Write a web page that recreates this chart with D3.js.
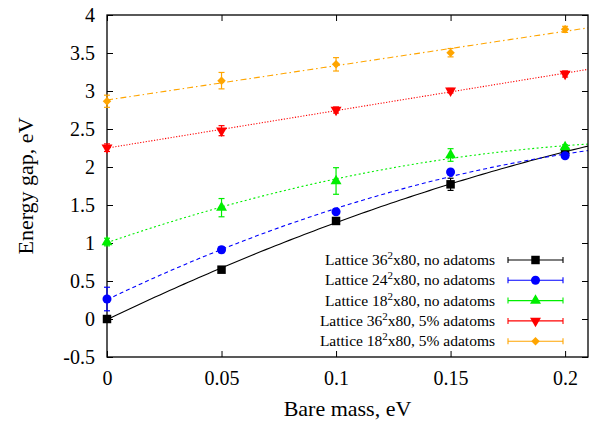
<!DOCTYPE html>
<html>
<head>
<meta charset="utf-8">
<script src="https://cdn.jsdelivr.net/npm/d3@7"></script>
<style>
  html, body { margin: 0; padding: 0; background: #fff; }
  svg, svg text { font-family: "Liberation Serif", "Times New Roman", serif; }
</style>
</head>
<body>
<svg id="chart" width="590" height="422"></svg>
<script>
// Bare mass values (eV) at which each lattice was simulated
const bareMass = [0, 0.05, 0.1, 0.15, 0.2];

// Energy gap (eV) and its statistical error for each lattice setup
const gap36 = [0.0, 0.649, 1.29, 1.772, 2.2];
const err36 = [0.02, 0.02, 0.03, 0.08, 0.03];
const gap24 = [0.263, 0.912, 1.412, 1.934, 2.148];
const err24 = [0.155, 0.04, 0.035, 0.03, 0.03];
const gap18 = [1.013, 1.465, 1.816, 2.158, 2.262];
const err18 = [0.05, 0.12, 0.175, 0.083, 0.03];
const gap36ad = [2.254, 2.478, 2.75, 3.004, 3.224];
const err36ad = [0.05, 0.066, 0.04, 0.03, 0.04];
const gap18ad = [2.865, 3.136, 3.351, 3.504, 3.811];
const err18ad = [0.08, 0.108, 0.088, 0.055, 0.04];

// Legend entries: [prefix, lattice size, suffix]
const legendLabels = [
  ["Lattice 36", "2", "x80, no adatoms"],
  ["Lattice 24", "2", "x80, no adatoms"],
  ["Lattice 18", "2", "x80, no adatoms"],
  ["Lattice 36", "2", "x80, 5% adatoms"],
  ["Lattice 18", "2", "x80, 5% adatoms"]
];

// Axis ticks
const xTicks = [0, 0.05, 0.1, 0.15, 0.2];
const xTickLabels = ["0", "0.05", "0.1", "0.15", "0.2"];
const yTicks = [-0.5, 0, 0.5, 1, 1.5, 2, 2.5, 3, 3.5, 4];
const yTickLabels = ["-0.5", "0", "0.5", "1", "1.5", "2", "2.5", "3", "3.5", "4"];

const xTitle = "Bare mass, eV";
const yTitle = "Energy gap, eV";

// ---- drawing ----
const W = 590, H = 422;
const plot = { left: 107, right: 588, top: 15, bottom: 357 };
const SERIF = '"Liberation Serif", "Times New Roman", serif';

const svg = d3.select("#chart");
svg.append("rect").attr("width", W).attr("height", H).attr("fill", "#fff");

const x = d3.scaleLinear().domain([0, 0.21]).range([plot.left, plot.right]);
const y = d3.scaleLinear().domain([-0.5, 4]).range([plot.bottom, plot.top]);

// Series styling and fit order (polynomial degree of the fitted curve)
const series = [
  { values: gap36, errors: err36, color: "#000000", dash: null, symbol: d3.symbolSquare, size: 72, rotate: 0, degree: 2 },
  { values: gap24, errors: err24, color: "#0000ff", dash: "4,3", symbol: d3.symbolCircle, size: 64, rotate: 0, degree: 2 },
  { values: gap18, errors: err18, color: "#00ee00", dash: "2,2.5", symbol: d3.symbolTriangle, size: 52, rotate: 0, degree: 2 },
  { values: gap36ad, errors: err36ad, color: "#ff0000", dash: "1.2,1.6", symbol: d3.symbolTriangle, size: 52, rotate: 180, degree: 1 },
  { values: gap18ad, errors: err18ad, color: "#ffa500", dash: "6,3,1.5,3", symbol: d3.symbolSquare, size: 36, rotate: 45, degree: 1 }
];

// Least-squares polynomial fit (normal equations, small degree)
function polyFit(xs, ys, deg) {
  const n = deg + 1;
  const A = Array.from({ length: n }, () => new Array(n + 1).fill(0));
  xs.forEach((xv, k) => {
    for (let i = 0; i < n; i++) {
      for (let j = 0; j < n; j++) A[i][j] += Math.pow(xv, i + j);
      A[i][n] += ys[k] * Math.pow(xv, i);
    }
  });
  for (let i = 0; i < n; i++) {
    let p = i;
    for (let r = i + 1; r < n; r++) if (Math.abs(A[r][i]) > Math.abs(A[p][i])) p = r;
    [A[i], A[p]] = [A[p], A[i]];
    for (let r = 0; r < n; r++) {
      if (r === i) continue;
      const f = A[r][i] / A[i][i];
      for (let c = i; c <= n; c++) A[r][c] -= f * A[i][c];
    }
  }
  return A.map((row, i) => row[n] / row[i]);
}

svg.append("clipPath").attr("id", "plotClip")
  .append("rect").attr("x", plot.left).attr("y", plot.top)
  .attr("width", plot.right - plot.left).attr("height", plot.bottom - plot.top);

// Fitted curves
const fitLayer = svg.append("g").attr("clip-path", "url(#plotClip)");
const line = d3.line().x(d => x(d[0])).y(d => y(d[1]));
const xGrid = d3.range(0, 0.2101, 0.0021);
series.forEach(s => {
  const c = polyFit(bareMass, s.values, s.degree);
  const pts = xGrid.map(xv => [xv, c.reduce((acc, ci, i) => acc + ci * Math.pow(xv, i), 0)]);
  fitLayer.append("path")
    .attr("d", line(pts))
    .attr("fill", "none")
    .attr("stroke", s.color)
    .attr("stroke-width", 1.1)
    .attr("stroke-dasharray", s.dash);
});

// Frame and ticks
const tick = 6;
const axes = [
  svg.append("g").attr("transform", `translate(0,${plot.bottom})`)
    .call(d3.axisBottom(x).tickValues(xTicks).tickFormat((d, i) => xTickLabels[i])
      .tickSizeInner(-tick).tickSizeOuter(0).tickPadding(14)),
  svg.append("g").attr("transform", `translate(0,${plot.top})`)
    .call(d3.axisTop(x).tickValues(xTicks).tickFormat("").tickSizeInner(-tick).tickSizeOuter(0)),
  svg.append("g").attr("transform", `translate(${plot.left},0)`)
    .call(d3.axisLeft(y).tickValues(yTicks).tickFormat((d, i) => yTickLabels[i])
      .tickSizeInner(-tick).tickSizeOuter(0).tickPadding(12)),
  svg.append("g").attr("transform", `translate(${plot.right},0)`)
    .call(d3.axisRight(y).tickValues(yTicks).tickFormat("").tickSizeInner(-tick).tickSizeOuter(0))
];
axes.forEach(a => a.attr("font-family", SERIF).attr("font-size", 20));

svg.selectAll(".domain").remove();
svg.selectAll(".tick line").attr("stroke", "#000").attr("stroke-width", 1);
svg.selectAll(".tick text")
  .style("font-family", SERIF)
  .style("font-size", "20px").attr("fill", "#000");

svg.append("rect")
  .attr("x", plot.left).attr("y", plot.top)
  .attr("width", plot.right - plot.left).attr("height", plot.bottom - plot.top)
  .attr("fill", "none").attr("stroke", "#000").attr("stroke-width", 1.3);

// Error bars and markers
const cap = 3;
function errorBar(g, cx, cyLo, cyHi, color) {
  g.append("line").attr("x1", cx).attr("x2", cx).attr("y1", cyLo).attr("y2", cyHi)
    .attr("stroke", color).attr("stroke-width", 1.2);
  [cyLo, cyHi].forEach(cy => g.append("line")
    .attr("x1", cx - cap).attr("x2", cx + cap).attr("y1", cy).attr("y2", cy)
    .attr("stroke", color).attr("stroke-width", 1.2));
}
function marker(g, s, cx, cy) {
  g.append("path")
    .attr("d", d3.symbol().type(s.symbol).size(s.size)())
    .attr("transform", `translate(${cx},${cy}) rotate(${s.rotate})`)
    .attr("fill", s.color);
}

series.forEach(s => {
  const g = svg.append("g");
  bareMass.forEach((m, i) => {
    const v = s.values[i], e = s.errors[i];
    errorBar(g, x(m), y(v - e), y(v + e), s.color);
    marker(g, s, x(m), y(v));
  });
});

// Legend
const legend = svg.append("g");
const legTextRight = 495, legLineL = 508, legLineR = 563, legTop = 260, legStep = 20.3;
legendLabels.forEach((lab, i) => {
  const s = series[i];
  const cy = legTop + i * legStep;
  const t = legend.append("text")
    .attr("x", legTextRight).attr("y", cy + 5)
    .attr("text-anchor", "end")
    .style("font-family", SERIF)
    .style("font-size", "15.5px").attr("fill", "#000");
  t.append("tspan").text(lab[0]);
  t.append("tspan").attr("dy", -6).style("font-size", "11px").text(lab[1]);
  t.append("tspan").attr("dy", 6).text(lab[2]);

  legend.append("line").attr("x1", legLineL).attr("x2", legLineR).attr("y1", cy).attr("y2", cy)
    .attr("stroke", s.color).attr("stroke-width", 1.1);
  [legLineL, legLineR].forEach(lx => legend.append("line")
    .attr("x1", lx).attr("x2", lx).attr("y1", cy - cap).attr("y2", cy + cap)
    .attr("stroke", s.color).attr("stroke-width", 1.1));
  marker(legend, s, (legLineL + legLineR) / 2, cy);
});

// Axis titles
svg.append("text")
  .attr("x", (plot.left + plot.right) / 2).attr("y", 416)
  .attr("text-anchor", "middle").style("font-family", SERIF).style("font-size", "22px").attr("fill", "#000")
  .text(xTitle);
svg.append("text")
  .attr("transform", `translate(33,${(plot.top + plot.bottom) / 2}) rotate(-90)`)
  .attr("text-anchor", "middle").style("font-family", SERIF).style("font-size", "22px").attr("fill", "#000")
  .text(yTitle);
</script>
</body>
</html>
